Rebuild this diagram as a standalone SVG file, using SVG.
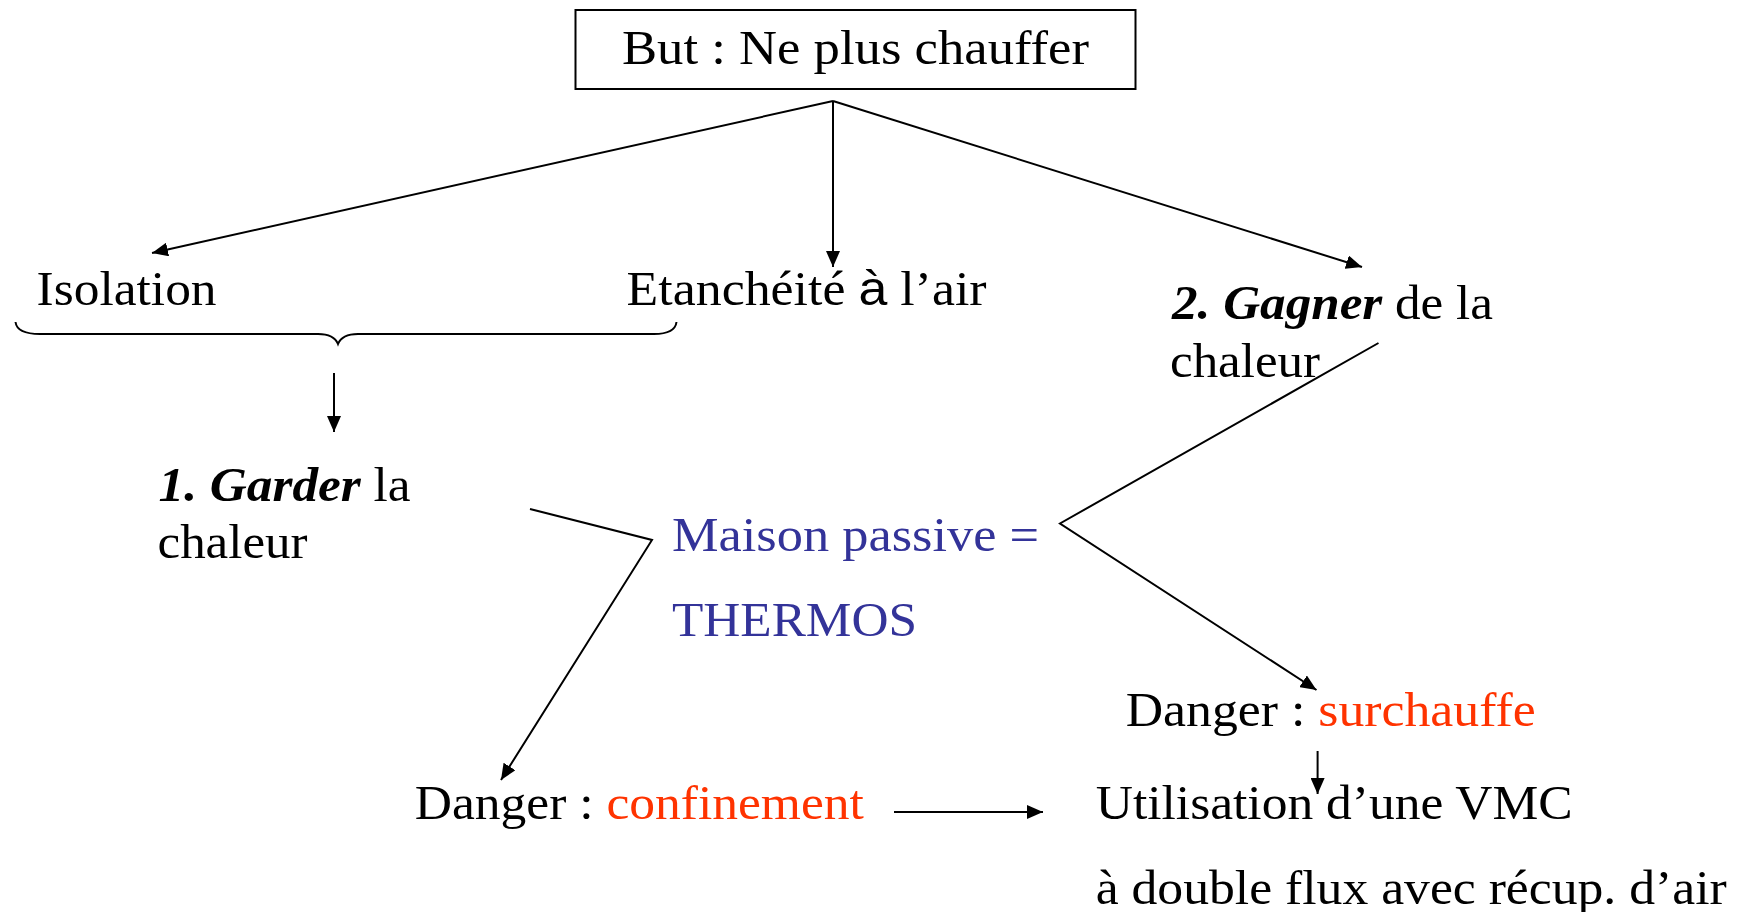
<svg xmlns="http://www.w3.org/2000/svg" width="1739" height="912" viewBox="0 0 1739 912">
<defs>
<style>
text{font-family:"Liberation Serif","Times New Roman",serif;font-size:48px;fill:#000}
.bi{font-weight:bold;font-style:italic}
.red{fill:#ff3300}
.blue{fill:#333399}
.sans{font-family:"Liberation Sans",Arial,sans-serif}
.ln{fill:none;stroke:#000;stroke-width:2}
</style>
<marker id="ah" viewBox="0 0 10 10" refX="10" refY="5" markerWidth="8" markerHeight="8" markerUnits="userSpaceOnUse" orient="auto">
<path d="M0,0 L10,5 L0,10 z" fill="#000"/>
</marker>
<marker id="ahb" viewBox="0 0 10 10" refX="10" refY="5" markerWidth="16" markerHeight="14" markerUnits="userSpaceOnUse" orient="auto" preserveAspectRatio="none">
<path d="M0,0 L10,5 L0,10 z" fill="#000"/>
</marker>
</defs>
<rect width="1739" height="912" fill="#fff"/>
<g id="connectors">
<path class="ln" d="M833,101 L152,253" marker-end="url(#ahb)"/>
<path class="ln" d="M833,101 L833,267" marker-end="url(#ahb)"/>
<path class="ln" d="M833,101 L1362,267" marker-end="url(#ahb)"/>
<path class="ln" d="M15.5,322 Q17,334 40,334 L318,334 Q334,334 338,344 Q342,334 358,334 L654,334 Q675,334 676.5,322"/>
<path class="ln" d="M334,373 L334,432" marker-end="url(#ahb)"/>
<path class="ln" d="M530,509 L652,540 L501,780" marker-end="url(#ahb)"/>
<path class="ln" d="M1378.5,343 L1060,523.5 L1316.5,690" marker-end="url(#ahb)"/>
<path class="ln" d="M1317.6,751 L1317.6,794" marker-end="url(#ahb)"/>
<path class="ln" d="M894,812 L1043,812" marker-end="url(#ahb)"/>
</g>
<g id="goal">
<rect x="575.5" y="10" width="560" height="79" fill="none" stroke="#000" stroke-width="2"/>
<text x="622" y="64" textLength="467" lengthAdjust="spacingAndGlyphs">But : Ne plus chauffer</text>
</g>
<g id="isolation">
<text x="36.6" y="305" textLength="180" lengthAdjust="spacingAndGlyphs">Isolation</text>
</g>
<g id="etancheite">
<text x="626.6" y="305" textLength="360" lengthAdjust="spacingAndGlyphs">Etanchéité <tspan class="sans">à</tspan> l’air</text>
</g>
<g id="garder">
<text x="158.6" y="501" textLength="252" lengthAdjust="spacingAndGlyphs"><tspan class="bi">1. Garder</tspan> la</text>
<text x="157.5" y="558" textLength="150" lengthAdjust="spacingAndGlyphs">chaleur</text>
</g>
<g id="maison">
<text class="blue" x="672" y="551" textLength="367" lengthAdjust="spacingAndGlyphs">Maison passive =</text>
<text class="blue" x="672" y="635.5" textLength="245" lengthAdjust="spacingAndGlyphs">THERMOS</text>
</g>
<g id="gagner">
<text x="1172" y="319" textLength="321" lengthAdjust="spacingAndGlyphs"><tspan class="bi">2. Gagner</tspan> de la</text>
<text x="1170" y="377" textLength="150" lengthAdjust="spacingAndGlyphs">chaleur</text>
</g>
<g id="surchauffe">
<text x="1125.7" y="726" textLength="410" lengthAdjust="spacingAndGlyphs">Danger : <tspan class="red">surchauffe</tspan></text>
</g>
<g id="confinement">
<text x="414.8" y="818.5" textLength="449" lengthAdjust="spacingAndGlyphs">Danger : <tspan class="red">confinement</tspan></text>
</g>
<g id="vmc">
<text x="1095.7" y="818.5" textLength="477" lengthAdjust="spacingAndGlyphs">Utilisation d’une VMC</text>
<text x="1095.7" y="904" textLength="631" lengthAdjust="spacingAndGlyphs">à double flux avec récup. d’air</text>
</g>
</svg>
